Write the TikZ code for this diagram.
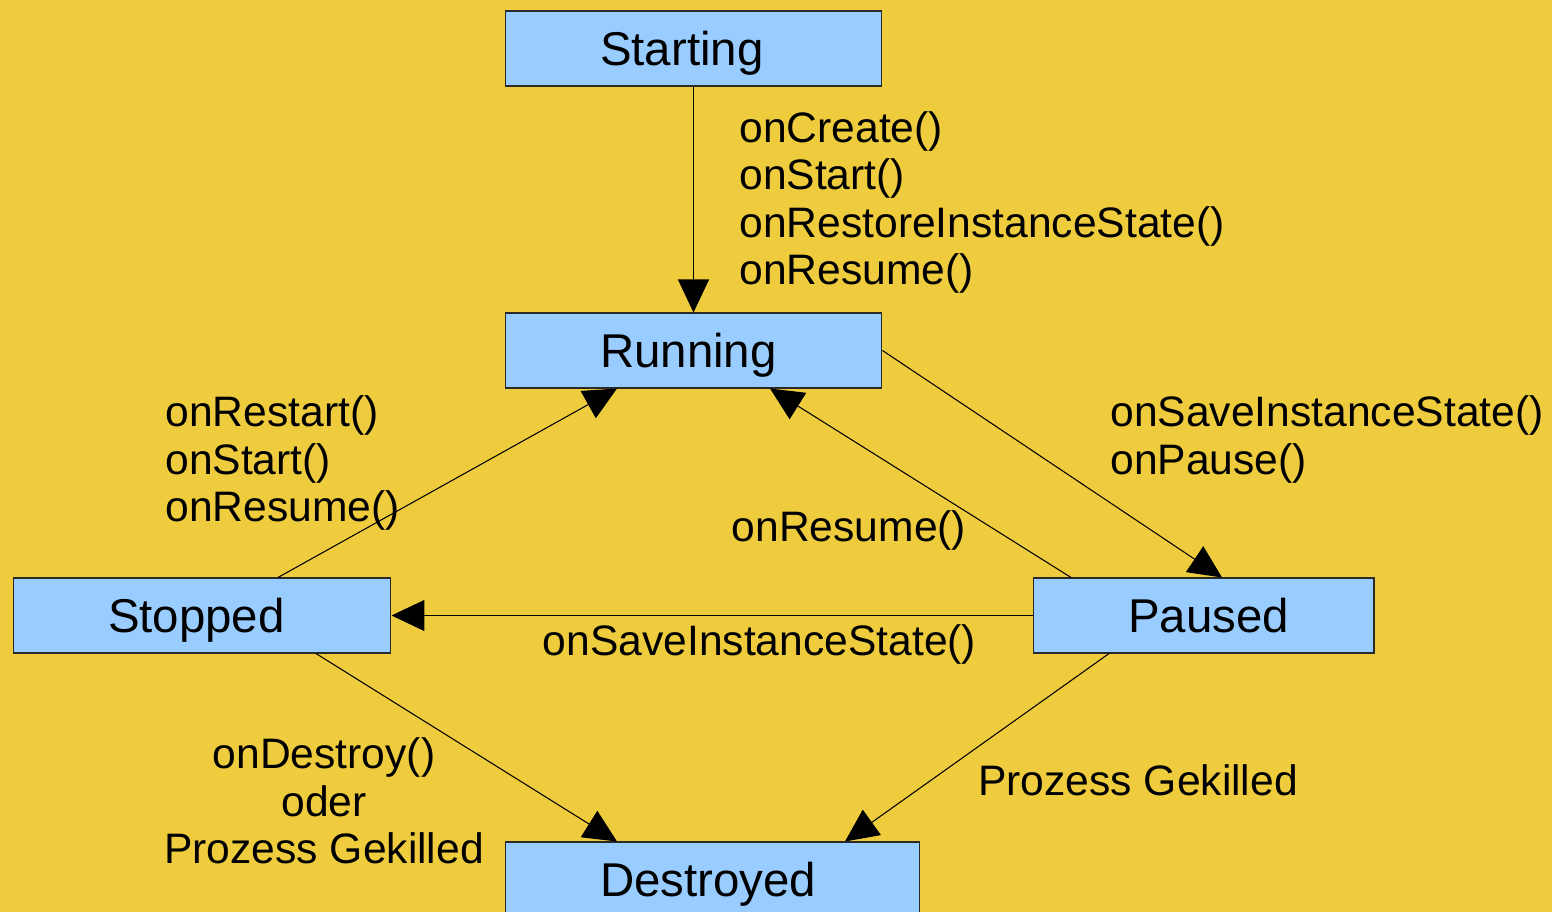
\documentclass[tikz,border=0pt]{standalone}
\usepackage{fontspec}
\setmainfont{Liberation Sans}
\usetikzlibrary{arrows.meta}
\definecolor{bgyellow}{HTML}{EECC3D}
\definecolor{boxblue}{HTML}{99CCFF}
\definecolor{boxline}{HTML}{2A2A2A}
\hfuzz=1cm

\begin{document}
\begin{tikzpicture}[x=0.02cm, y=-0.02cm,
    state/.style={shape=rectangle, draw=boxline, fill=boxblue, line width=0.6pt,
                  minimum height=1.5cm, inner ysep=0pt, inner xsep=1.9cm,
                  text width=#1, align=left, text depth=0pt,
                  font=\fontsize{27pt}{32pt}\selectfont},
    trans/.style={draw=black, line width=0.6pt, -{Triangle[length=0.66cm, width=0.62cm]}},
    calls/.style={inner sep=0pt, font=\fontsize{24.25pt}{27pt}\selectfont}]
        % Background
        \fill[bgyellow] (0,0) rectangle (1552,912);
        \useasboundingbox (0,0) rectangle (1552,912);
        % States
        \node[state=3.74cm] (Start) at (693.5, 48.5) {Starting};
        \node[state=3.74cm] (Run) at (693.5, 350.5) {Running};
        \node[state=3.76cm] (Stop) at (202, 615.5) {Stopped};
        \node[state=3.02cm] (Pause) at (1203.5, 615.5) {Paused};
        \node[state=4.5cm] (Destroy) at (712.5, 879.5) {Destroyed};
        % Transitions
        \draw[trans] (Start.south) -- (Run.north);
        \draw[trans] (Run.east) -- ([xshift=0.37cm]Pause.north);
        \draw[trans] ([xshift=-2.65cm]Pause.north) -- ([xshift=1.53cm]Run.south);
        \draw[trans] ([xshift=1.52cm]Stop.north) -- ([xshift=-1.53cm]Run.south);
        \draw[trans] (Pause.west) -- (Stop.east);
        \draw[trans] ([xshift=2.28cm]Stop.south) -- ([xshift=-1.91cm]Destroy.north);
        \draw[trans] ([xshift=-1.89cm]Pause.south) -- ([xshift=2.65cm]Destroy.north);
        % Labels
        \node[calls, anchor=west, align=left] (LStart) at (739, 202.5)
            {onCreate()\\onStart()\\onRestoreInstanceState()\\onResume()};
        \node[calls, anchor=west, align=left] (LRestart) at (165, 463)
            {onRestart()\\onStart()\\onResume()};
        \node[calls, anchor=west, align=left] (LPause) at (1110, 439.5)
            {onSaveInstanceState()\\onPause()};
        \node[calls] (LResume) at (849, 530) {onResume()};
        \node[calls] (LSave) at (759.5, 644) {onSaveInstanceState()};
        \node[calls, align=center] (LDestroy) at (324, 801)
            {onDestroy()\\oder\\Prozess Gekilled};
        \node[calls] (LKill) at (1138, 780) {Prozess Gekilled};
    \end{tikzpicture}
\end{document}
